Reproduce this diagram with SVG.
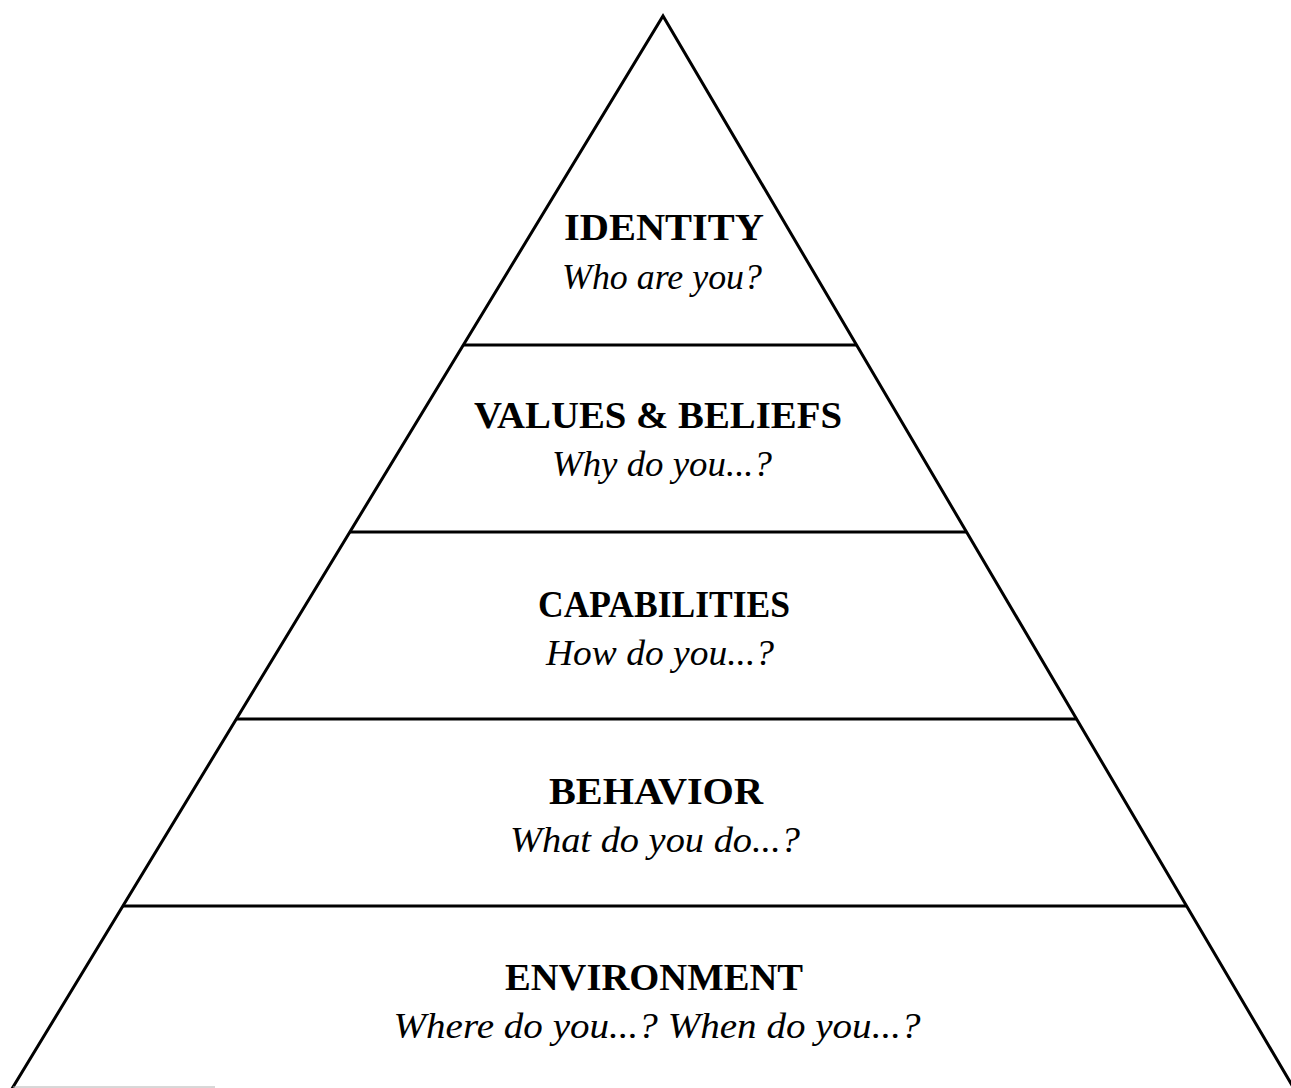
<svg xmlns="http://www.w3.org/2000/svg" width="1291" height="1088" viewBox="0 0 1291 1088">
<style>
.edge{stroke:#000;stroke-width:3;fill:none;stroke-linejoin:miter}
.div{stroke:#000;stroke-width:3;fill:none}
.t{font-family:"Liberation Serif","Times New Roman",serif;font-weight:bold;font-size:38px;fill:#000;text-anchor:middle}
.s{font-family:"Liberation Serif","Times New Roman",serif;font-style:italic;font-size:36px;fill:#000;text-anchor:middle}
</style>
<rect x="0" y="0" width="1291" height="1088" fill="#fff"/>
<g id="pyramid">
<polyline class="edge" points="10,1092 663,16 1296,1092"/>
<line x1="13" y1="1087" x2="215" y2="1087" stroke="#b0b0b0" stroke-width="1"/>
</g>
<g id="connectors">
<line class="div" x1="463" y1="345" x2="857" y2="345"/>
<line class="div" x1="350" y1="532" x2="966" y2="532"/>
<line class="div" x1="236" y1="719" x2="1076" y2="719"/>
<line class="div" x1="123" y1="906" x2="1186" y2="906"/>
</g>
<g id="identity">
<text class="t" x="664" y="240" textLength="200" lengthAdjust="spacingAndGlyphs">IDENTITY</text>
<text class="s" x="662" y="289" textLength="200" lengthAdjust="spacingAndGlyphs">Who are you?</text>
</g>
<g id="values-beliefs">
<text class="t" x="658" y="428" textLength="368" lengthAdjust="spacingAndGlyphs">VALUES &amp; BELIEFS</text>
<text class="s" x="662" y="476" textLength="220" lengthAdjust="spacingAndGlyphs">Why do you...?</text>
</g>
<g id="capabilities">
<text class="t" x="664" y="617" textLength="252" lengthAdjust="spacingAndGlyphs">CAPABILITIES</text>
<text class="s" x="660" y="665" textLength="228" lengthAdjust="spacingAndGlyphs">How do you...?</text>
</g>
<g id="behavior">
<text class="t" x="656" y="804" textLength="214" lengthAdjust="spacingAndGlyphs">BEHAVIOR</text>
<text class="s" x="655" y="852" textLength="290" lengthAdjust="spacingAndGlyphs">What do you do...?</text>
</g>
<g id="environment">
<text class="t" x="654" y="990" textLength="298" lengthAdjust="spacingAndGlyphs">ENVIRONMENT</text>
<text class="s" x="657" y="1038" textLength="527" lengthAdjust="spacingAndGlyphs">Where do you...? When do you...?</text>
</g>
</svg>
